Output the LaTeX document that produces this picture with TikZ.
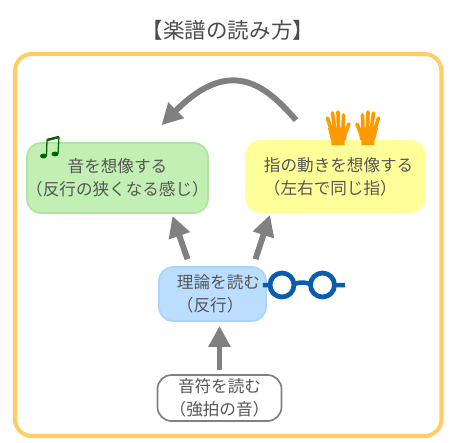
\documentclass[tikz,border=0pt]{standalone}
\usepackage{fontspec}
\setmainfont{Noto Sans CJK JP}
\usetikzlibrary{arrows.meta}
\definecolor{framecol}{HTML}{FFCC66}
\definecolor{textcol}{HTML}{555555}
\definecolor{arrowcol}{HTML}{808080}
\definecolor{glasscol}{HTML}{0B5CAD}
\definecolor{handcol}{HTML}{FF9900}
\definecolor{notecol}{HTML}{006400}
\definecolor{soundfill}{HTML}{C2EFB4}
\definecolor{sounddraw}{HTML}{ADE5A0}
\definecolor{fingerfill}{HTML}{FFFF99}
\definecolor{theoryfill}{HTML}{BBDEFF}
\definecolor{theorydraw}{HTML}{A8D4FF}
\newcommand{\lineindent}{\hspace*{0.45cm}}
\begin{document}
\begin{tikzpicture}[
    x=0.025cm, y=-0.025cm,
    box/.style={
        draw,
        line width=1.2pt,
        rounded corners=10pt,
        align=center,
        inner sep=0pt,
        text=textcol,
        font=\fontsize{11.8}{16.4}\selectfont
    },
    leftbox/.style={box, align=left},
    arrow/.style={
        draw=arrowcol,
        line width=4.2pt,
        -{Triangle[length=15pt,width=15pt]}
    },
    palm/.pic={
        \fill[handcol] (-6.5,-14) -- (-6.5,0) -- (6.5,0) -- (7,-14) -- cycle;
        \fill[handcol] (-10,-17) -- (9.5,-17) -- (8,-5) -- (-7,-5) -- cycle;
        \draw[handcol, line width=2.6pt, line cap=round]
            (-7,-16) -- (-10.5,-27)
            (-3.5,-17) -- (-5.5,-32)
            (0.5,-17) -- (0,-33)
            (5,-16) -- (5.5,-30)
            (6,-8) -- (11,-21);
    }
]
    \useasboundingbox (0,0) rectangle (450,443);

    % outer frame and title
    \node[font=\fontsize{15.3}{18}\selectfont, text=black!70] (title) at (228,30) {【楽譜の読み方】};
    \draw[framecol, line width=2.9pt, rounded corners=12pt] (15,54) rectangle (441.5,436);

    % boxes
    \node[box, draw=sounddraw, fill=soundfill, inner xsep=-4pt, minimum width=4.525cm, minimum height=1.75cm] (imagesound) at (117.5,178)
        {音を想像する\\（反行の狭くなる感じ）};
    \node[leftbox, draw=fingerfill, fill=fingerfill, text width=4.475cm, minimum height=1.775cm] (imagefinger) at (335.5,176.5)
        {\lineindent 指の動きを想像する\\\lineindent（左右で同じ指）};
    \node[leftbox, draw=theorydraw, fill=theoryfill, text width=2.675cm, minimum height=1.35cm] (theory) at (212.5,294)
        {\lineindent 理論を読む\\\lineindent（反行）};
    \node[box, draw=black!50, fill=white, minimum width=3.1cm, minimum height=1.15cm] (notes) at (219.5,398)
        {音符を読む\\（強拍の音）};

    % arrows
    \draw[arrow] ([shift={(0,-4)}]notes.north) -- ([shift={(7,4)}]theory.south);
    \draw[arrow] ([shift={(-25,-7)}]theory.north) -- ([shift={(55,2)}]imagesound.south);
    \draw[arrow] ([shift={(43,-7)}]theory.north) -- ([shift={(-65.5,2)}]imagefinger.south);
    \draw[arrow] ([shift={(-39.5,-20)}]imagefinger.north) .. controls (268,88) and (232,54) .. ([shift={(44,-17)}]imagesound.north);

    % icons
    \pic at (338,145) {palm};
    \pic[xscale=-1] at (368,145) {palm};

    \draw[glasscol, line width=3.4pt] (282,285) circle (12) (322.5,285) circle (12);
    \draw[glasscol, line width=3.2pt] (263,285) -- (270,285)
        (294,284) .. controls (300,282) and (304,282) .. (310.5,284)
        (334.5,285) -- (345,285);

    \fill[notecol] (43.5,156) ellipse (3.5 and 2.4) (55,154) ellipse (3.5 and 2.4);
    \draw[notecol, line width=0.9pt] (46.5,156) -- (47,140) (58,154) -- (59,137);
    \draw[notecol, line width=1.8pt] (47,140) -- (59,137);
\end{tikzpicture}
\end{document}
